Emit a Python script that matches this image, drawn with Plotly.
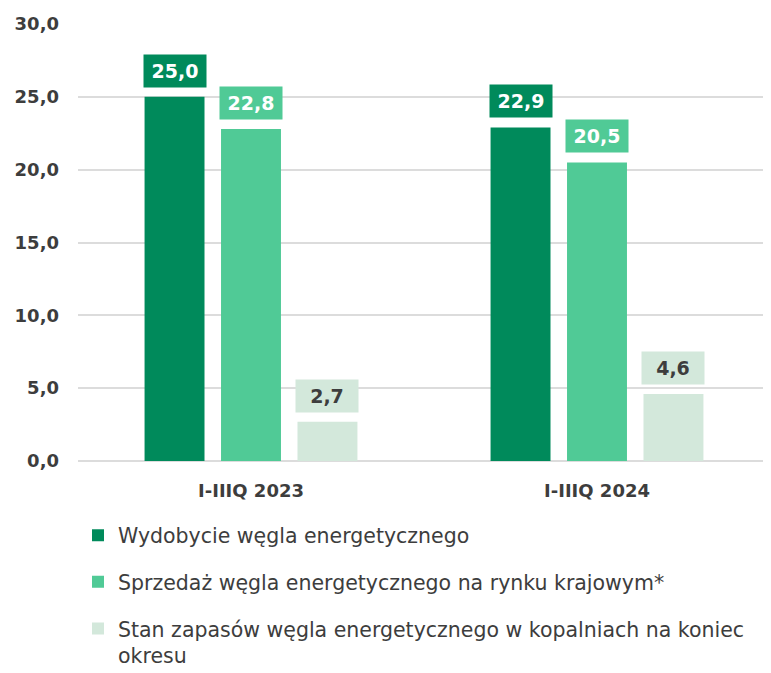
import plotly.graph_objects as go

categories = ["I-IIIQ 2023", "I-IIIQ 2024"]
series_names = [
    "Wydobycie węgla energetycznego",
    "Sprzedaż węgla energetycznego na rynku krajowym*",
    "Stan zapasów węgla energetycznego w kopalniach na koniec<br>okresu",
]
values_wydobycie = [25.0, 22.9]
values_sprzedaz = [22.8, 20.5]
values_zapasy = [2.7, 4.6]
y_ticks = [0, 5, 10, 15, 20, 25, 30]
y_tick_labels = ["0,0", "5,0", "10,0", "15,0", "20,0", "25,0", "30,0"]

colors = ["#008A5B", "#50CA96", "#D3E8DB"]
label_text_colors = ["#FFFFFF", "#FFFFFF", "#3D3D3D"]
FONT = "DejaVu Sans"
BARGAP = 0.337
BARGROUPGAP = 0.216
OFF = 8  # browser body offset

all_series = [values_wydobycie, values_sprzedaz, values_zapasy]

fig = go.Figure()
for i, (name, vals) in enumerate(zip(series_names, all_series)):
    fig.add_trace(go.Bar(
        x=categories, y=vals, name=name,
        marker=dict(color=colors[i], line=dict(width=0)),
        legendgroup=f"g{i}",
        hoverinfo="skip",
    ))

n = len(all_series)
slot = (1 - BARGAP) / n
for i, vals in enumerate(all_series):
    for ci, v in enumerate(vals):
        xpos = ci + (i - (n - 1) / 2) * slot
        fig.add_annotation(
            x=xpos, y=v, xref="x", yref="y",
            text=f"<b>{v:.1f}</b>".replace(".", ","),
            showarrow=False, yanchor="bottom", yshift=9,
            bgcolor=colors[i], borderpad=5, width=52,
            font=dict(family=FONT, size=19, color=label_text_colors[i]),
        )

fig.update_layout(
    width=771 - OFF, height=673 - OFF,
    margin=dict(l=78 - OFF, r=1, t=24 - OFF, b=212),
    paper_bgcolor="white", plot_bgcolor="white",
    barmode="group", bargap=BARGAP, bargroupgap=BARGROUPGAP,
    font=dict(family=FONT, color="#3D3D3D", size=19),
    showlegend=True,
    legend=dict(
        orientation="v", x=0.0, xanchor="left",
        yref="container", y=0.237, yanchor="top",
        font=dict(family=FONT, size=20.5, color="#3D3D3D"),
        tracegroupgap=17, traceorder="grouped", valign="top",
    ),
    xaxis=dict(
        type="category", showgrid=False, showline=False, ticks="",
        tickfont=dict(family=FONT, size=18, color="#3D3D3D", weight="bold"),
        range=[-0.5, 1.5], ticklabelstandoff=17,
    ),
    yaxis=dict(
        range=[0, 30], tickvals=y_ticks, ticktext=y_tick_labels,
        showgrid=True, gridcolor="#DCDCDC", gridwidth=2,
        zeroline=True, zerolinecolor="#DCDCDC", zerolinewidth=2,
        tickfont=dict(family=FONT, size=18, color="#3D3D3D", weight="bold"),
        ticks="", ticklabelstandoff=18, showline=False,
    ),
)

fig.write_html("out.html")
